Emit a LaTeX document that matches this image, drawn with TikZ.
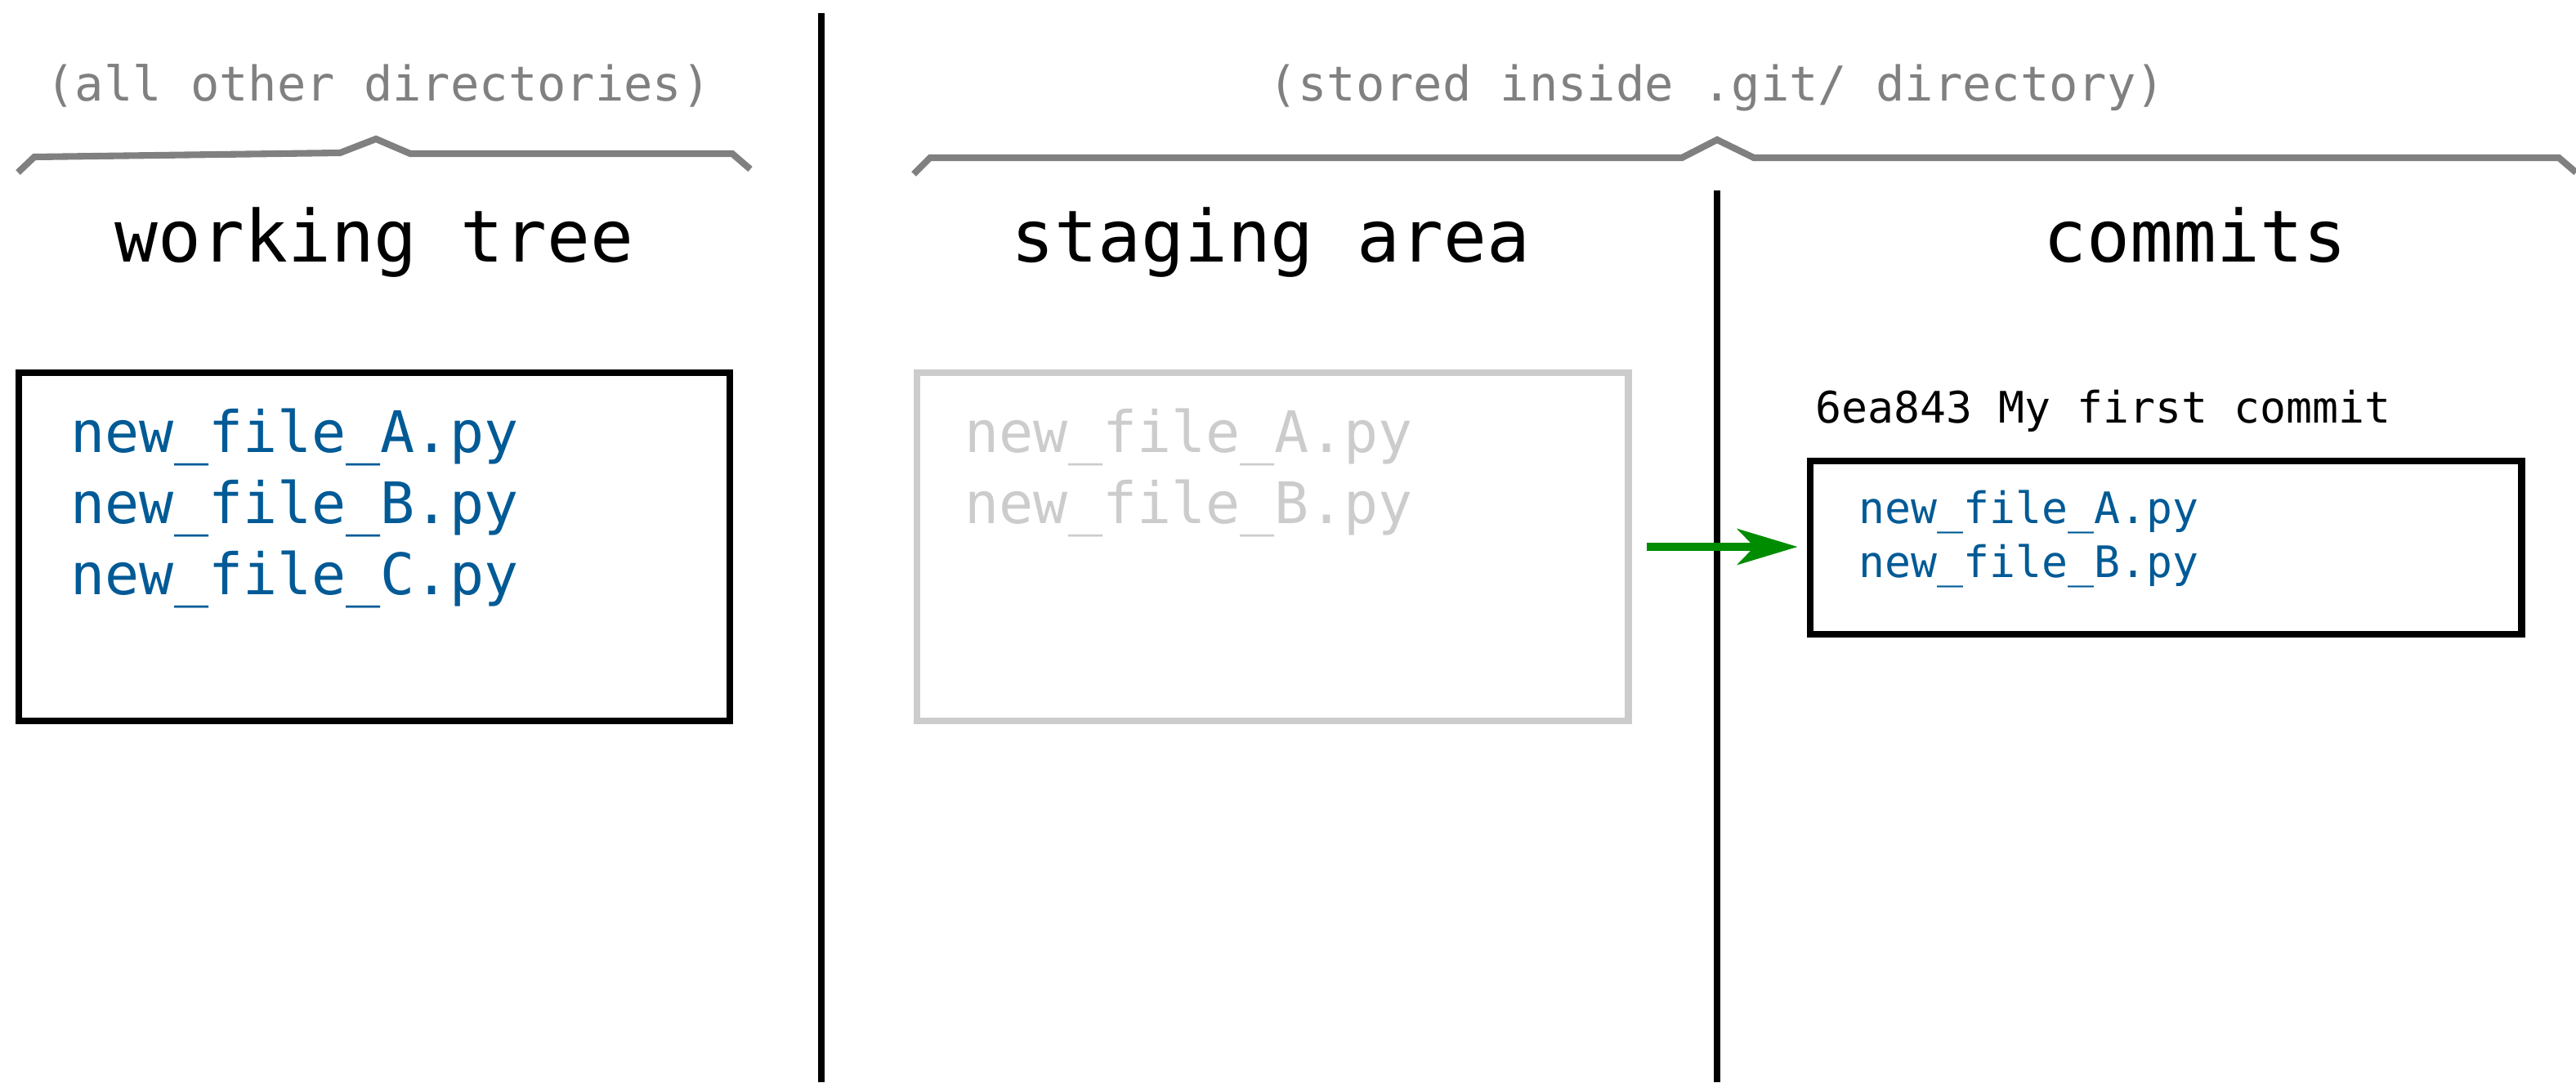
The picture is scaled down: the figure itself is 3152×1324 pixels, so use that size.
\documentclass[tikz,border=0pt]{standalone}
\usepackage{fontspec}
\setmainfont{DejaVu Sans Mono}
\usetikzlibrary{arrows.meta}

\definecolor{filecol}{RGB}{0,90,150}
\definecolor{ghost}{RGB}{204,204,204}
\definecolor{notegray}{RGB}{128,128,128}
\definecolor{addgreen}{RGB}{0,140,0}

\begin{document}
\begin{tikzpicture}[x=0.01cm, y=-0.01cm,
  box/.style = {draw, line width=2.4pt, minimum width=8.7cm, inner sep=0},
  title/.style = {font=\fontsize{25}{30}\selectfont, anchor=base, inner sep=0},
  note/.style = {font=\fontsize{16.7}{20}\selectfont, text=notegray, anchor=base, inner sep=0},
  fname/.style = {font=\fontsize{19.9}{24}\selectfont, text=filecol, anchor=base west, inner sep=0},
  cname/.style = {font=\fontsize{15.1}{18}\selectfont, text=filecol, anchor=base west, inner sep=0},
  brace/.style = {draw=notegray, line width=2.3pt},
  divider/.style = {line width=2.4pt},
  add/.style = {draw=addgreen, line width=2.6pt,
    -{Stealth[length=21pt, width=12.5pt, inset=6pt]}}]
\useasboundingbox (0,0) rectangle (3152,1324);

% column dividers
\draw[divider] (1005,16) -- (1005,1324);
\draw[divider] (2101,233) -- (2101,1324);

% braces and what they cover
\draw[brace] (22,211) -- (42,192) -- (416,187) -- (460,170) -- (502,188) -- (896,188) -- (918,207);
\draw[brace] (1118,213) -- (1138,193) -- (2058,193) -- (2101,171) -- (2146,193) -- (3131,193) -- (3152,211);
\node[note] (others) at (463,123) {(all other directories)};
\node[note] (inside) at (2101,123) {(stored inside .git/ directory)};

% column titles
\node[title] (wtitle) at (458,320) {working tree};
\node[title] (stitle) at (1555,320) {staging area};
\node[title] (ctitle) at (2686,320) {commits};

% boxes
\node[box, minimum height=4.26cm] (work) at (458,669) {};
\node[box, draw=ghost, minimum height=4.26cm] (stage) at (1557,669) {};
\node[box, minimum height=2.12cm] (commit) at (2650,670) {};

% files
\foreach \f [count=\i] in {A,B,C}
  \node[fname] (work\f) at (86,{553+87*(\i-1)}) {new\_file\_\f.py};
\foreach \f [count=\i] in {A,B}
  \node[fname, text=ghost] (stage\f) at (1180,{553+87*(\i-1)}) {new\_file\_\f.py};
\node[cname, text=black] (msg) at (2221,517) {6ea843 My first commit};
\foreach \f [count=\i] in {A,B}
  \node[cname] (commit\f) at (2274,{640+66*(\i-1)}) {new\_file\_\f.py};

\draw[add, shorten <=0.18cm, shorten >=0.11cm] (stage.east) -- (stage.east -| commit.west);
\end{tikzpicture}
\end{document}
